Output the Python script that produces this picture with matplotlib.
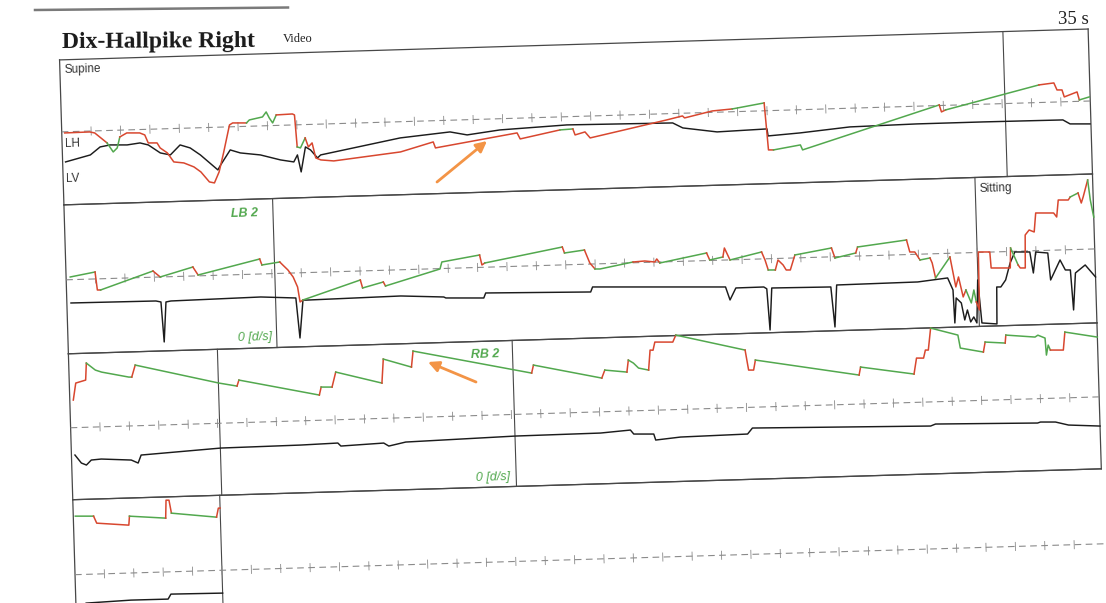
import matplotlib
matplotlib.use("Agg")
import matplotlib.pyplot as plt
from matplotlib.transforms import Affine2D

# ---------------------------------------------------------------- data
# Row 1 (0-35 s, supine): horizontal eye position (LH) and vertical (LV), degrees
r1_lh_t = [0.10, 0.95, 1.12, 1.53, 1.73, 1.87, 1.97, 2.21, 2.65, 2.82, 2.93, 3.23, 3.33,
           3.57, 3.78, 4.12, 4.46, 4.69, 4.97, 5.14, 5.31, 5.48, 5.71, 5.82, 6.29, 6.39,
           6.84, 6.97, 7.07, 7.18, 7.31, 7.86, 7.93, 7.99, 8.10, 8.27, 8.37, 8.50, 8.61,
           8.78, 9.22, 11.50, 12.62, 12.69, 15.48, 15.58, 16.94, 17.38, 17.45, 17.79,
           17.96, 18.98, 20.58, 21.12, 21.19, 22.14, 22.82, 23.91, 24.01, 24.18, 25.10,
           25.17, 29.86, 29.93, 30.07, 33.27, 33.78, 33.88, 34.05, 34.12, 34.56, 34.63, 34.97]
r1_lh_deg = [-0.23, -0.18, -0.41, -2.48, -4.32, -3.54, -1.36, -0.60, -0.68, -1.11, -2.73,
             -2.78, -3.80, -4.84, -6.68, -6.94, -7.80, -8.84, -10.89, -11.12, -8.95, -5.18,
             0.38, 0.76, 0.68, 1.26, 1.78, 2.76, 1.54, 0.52, 2.10, 2.20, 1.99, -4.42, -4.64,
             -2.67, -4.49, -3.71, -6.73, -7.16, -7.44, -6.04, -4.24, -5.45, -2.94, -4.16,
             -2.60, -2.48, -3.69, -3.15, -4.38, -3.16, -1.24, -0.54, -0.95, 0.28, 0.56, 1.57,
             -7.85, -7.88, -7.04, -8.05, 0.12, -1.29, -0.92, 3.52, 3.83, 2.41, 2.38, 0.97,
             1.89, 0.28, 0.82]
# r = fast phase (drawn red), g = slow phase (drawn green), one letter per segment
r1_lh_phase = ("rrr" "ggg" + "r" * 18 + "ggg" "ggg" "rrr" "gg" "rrr" + "r" * 8 + "g"
               + "r" * 9 + "g" "rr" "ggg" "rr" "g" + "r" * 6 + "g")

r1_lv_t = [0.10, 0.95, 1.29, 1.63, 2.21, 2.65, 2.93, 3.33, 3.67, 4.01, 4.35, 4.69, 5.27,
           5.37, 5.71, 6.05, 6.73, 7.41, 7.86, 7.99, 8.10, 8.27, 8.44, 8.67, 8.78, 11.50,
           13.20, 13.78, 14.90, 17.18, 20.78, 21.12, 22.28, 23.98, 24.01, 25.10, 26.80,
           29.08, 31.33, 34.05, 34.29, 34.97]
r1_lv_deg = [-6.03, -4.78, -3.24, -2.90, -3.00, -2.68, -3.13, -4.80, -5.26, -3.32, -3.98,
             -5.44, -8.54, -7.56, -4.62, -5.28, -5.80, -6.92, -7.40, -6.02, -9.44, -4.47,
             -5.10, -6.74, -6.16, -3.24, -2.34, -3.04, -2.24, -1.64, -1.88, -2.94, -3.94,
             -3.64, -5.05, -4.64, -3.74, -3.54, -3.54, -3.62, -4.46, -4.58]

# Row 2 (35-70 s)
r2_pos_t = [0.14, 0.99, 1.05, 1.16, 2.96, 3.20, 4.32, 4.49, 6.60, 6.67, 7.28, 7.38, 7.55,
            7.72, 7.86, 7.93, 8.03, 10.00, 10.07, 10.78, 10.85, 12.72, 12.79, 14.08, 14.15,
            14.25, 16.90, 16.97, 17.65, 17.82, 17.99, 18.16, 19.29, 19.69, 20.03, 20.10,
            20.20, 21.80, 21.90, 22.35, 22.41, 22.59, 23.67, 23.78, 23.88, 24.12, 24.22,
            24.39, 24.49, 24.63, 24.80, 26.05, 26.16, 26.87, 26.94, 28.61, 28.71, 28.88,
            29.05, 29.39, 29.46, 29.56, 30.07, 30.24, 30.34, 30.48, 30.58, 30.75, 30.85,
            30.92, 31.02, 31.04, 31.43, 31.46, 32.11, 32.14, 32.38, 32.45, 32.62, 32.65,
            32.79, 32.96, 33.03, 33.64, 33.74, 33.81, 34.15, 34.22, 34.49, 34.59, 34.66,
            34.83, 34.90, 35.00]
r2_pos_deg = [0.54, 1.39, -2.22, -2.24, 1.24, 0.00, 1.80, 0.17, 3.00, 1.79, 2.28, 1.66, 0.63,
              -0.80, -2.82, -5.83, -5.45, -1.80, -3.41, -2.34, -3.15, -0.08, 1.31, 2.48,
              0.47, 0.85, 3.58, 2.37, 2.85, 0.22, -1.01, -1.04, 0.16, 0.29, 0.03, 0.62,
              -0.20, 1.52, 0.10, 0.62, 2.41, -0.02, 1.39, -0.23, -2.25, -2.29, -0.31, -1.34,
              -2.36, -2.38, 0.59, 1.77, -0.25, 0.62, 1.81, 2.92, 0.50, 0.47, -1.16, -0.82,
              -1.83, -4.85, -0.74, -6.77, -4.79, -8.81, -7.43, -10.06, -7.48, -9.89, -11.51,
              0.09, 0.02, -3.19, -3.30, 0.69, -2.75, -3.36, -3.39, 3.20, 4.18, 3.75, 7.54,
              7.43, 6.61, 10.00, 9.94, 10.53, 11.28, 9.26, 10.45, 13.82, 9.81, 6.37]
r2_pos_phase = ("g" "rr" "g" "r" "g" "r" "g" "r" "g" "rrrrrr" "g" "r" "g" "r" "ggg" "rr" "g"
                "r" "g" "rr" "gg" "rrrr" "g" "r" "g" "rr" "g" "rr" "g" "rrrrr" "g" "r" "g"
                "r" "g" "rrr" "g" "rr" "g" "rrrr" "ggg" "rrrrrr" "g" + "r" * 11 + "g" "rrr" "gg")

r2_vel_t = [0.14, 3.03, 3.20, 3.27, 3.37, 3.54, 6.60, 7.79, 7.89, 8.03, 8.13, 11.36, 12.82,
            12.89, 14.18, 14.25, 17.82, 17.89, 21.90, 22.41, 22.55, 22.76, 23.71, 23.81,
            23.88, 23.98, 25.99, 26.09, 26.19, 28.95, 29.97, 30.14, 30.17, 30.24, 30.41,
            30.51, 30.61, 30.71, 30.82, 30.92, 30.99, 31.09, 31.60, 31.63, 31.77, 31.94,
            32.11, 32.28, 32.79, 32.89, 32.99, 33.40, 33.47, 33.81, 33.98, 34.15, 34.22,
            34.32, 34.66, 35.00]
r2_vel_deg = [-4.66, -4.77, -5.00, -13.01, -5.03, -4.86, -4.60, -5.01, -13.03, -5.45, -5.50,
              -5.24, -5.70, -5.91, -6.14, -5.15, -5.58, -4.59, -5.30, -5.39, -8.01, -5.65,
              -5.62, -6.00, -14.25, -5.87, -6.02, -14.04, -5.66, -5.54, -4.92, -7.35, -13.96,
              -8.97, -10.00, -13.42, -11.44, -13.85, -12.87, -14.09, -5.50, -14.12, -14.41,
              -7.02, -7.04, -5.67, -2.30, -0.13, -0.22, -4.44, -0.26, -0.53, -5.94, -2.00,
              -4.03, -4.06, -12.07, -4.69, -3.15, -5.61]

# Row 3 (70-105 s)
r3_pos_t = [0.12, 0.22, 0.56, 0.60, 0.90, 1.11, 2.03, 2.13, 2.26, 5.09, 5.70, 5.77, 8.49,
            8.56, 8.93, 9.07, 10.63, 10.70, 11.65, 11.72, 15.73, 15.80, 18.11, 18.22, 18.97,
            19.03, 19.20, 19.37, 19.71, 19.78, 19.88, 19.95, 20.56, 20.67, 23.01, 23.11,
            23.28, 23.35, 26.86, 26.92, 28.73, 28.83, 29.07, 29.14, 29.24, 29.34, 30.26,
            30.33, 31.11, 31.18, 31.86, 31.89, 32.88, 32.98, 33.22, 33.25, 33.32, 33.39,
            33.83, 33.90, 35.00]
r3_pos_deg = [5.52, 8.90, 9.44, 12.83, 11.38, 10.94, 9.78, 9.76, 12.14, 8.04, 7.33, 8.52,
              5.04, 6.63, 6.56, 9.54, 7.06, 11.85, 10.08, 13.27, 8.16, 9.75, 6.74, 8.32,
              7.79, 10.18, 9.55, 8.52, 8.06, 12.05, 12.00, 13.62, 13.51, 14.89, 11.48, 7.46,
              7.43, 9.42, 5.80, 7.39, 5.67, 8.85, 8.80, 10.40, 10.38, 14.76, 13.20, 10.59,
              9.65, 11.64, 11.32, 12.91, 12.34, 12.70, 12.08, 8.67, 10.66, 9.65, 9.57, 13.16,
              11.96]
r3_pos_phase = ("rrr" "gggg" "r" "gg" "r" "g" "r" "g" "r" "g" "r" "g" "r" "g" "r" "g" "r"
                "g" "r" "ggg" "rrrrr" "g" "rrr" "g" "r" "g" "rrrrr" "ggg" "r" "g" "r"
                "gggggg" "rr" "g")

r3_vel_t = [0.12, 0.33, 0.50, 0.67, 1.01, 2.03, 2.26, 2.37, 5.09, 7.81, 9.07, 9.17, 10.63,
            10.80, 11.38, 15.12, 18.01, 19.03, 19.14, 19.82, 19.88, 20.73, 23.01, 23.18,
            29.24, 29.41, 32.88, 32.98, 33.49, 33.93, 35.00]
r3_vel_deg = [-5.48, -7.12, -7.55, -6.58, -6.44, -6.82, -7.46, -5.88, -4.96, -4.84, -4.66,
              -5.28, -4.94, -5.57, -4.87, -4.33, -4.24, -3.82, -4.64, -4.76, -5.97, -5.52,
              -5.32, -4.15, -4.82, -4.45, -4.86, -4.68, -4.77, -5.45, -5.84]

# Row 4 (105-140 s)
r4_pos_t = [0.07, 0.69, 0.79, 1.88, 1.91, 3.14, 3.17, 3.27, 3.34, 4.87, 4.94, 5.00]
r4_pos_deg = [11.70, 11.59, 10.17, 9.58, 11.37, 10.76, 14.35, 14.33, 11.72, 10.65, 12.44, 12.44]
r4_pos_phase = "grrrgrrrgrr"

r4_vel_t = [0.35, 1.88, 3.14, 3.24, 5.00]
r4_vel_deg = [-5.75, -5.42, -5.44, -4.46, -4.57]

# event markers (s within each row)
row_events = [[32.1], [7.1, 31.0], [5.07, 15.1], [5.0]]

# ---------------------------------------------------------------- layout
W, H, DPI = 1106, 603, 100
SECONDS_PER_ROW = 35
ROW_TOP = [45, 190, 339, 485]
ROW_HEIGHT = [145, 149, 146, 147]
ROW_ZERO = [117, 265, 413, 560]
PX_PER_DEG = 5
LEFT, RIGHT = 67, 1096
SCAN_TILT = 1.72  # degrees

GREEN = "#52a84e"
RED = "#d8472f"
BLACK = "#1c1c1c"
FRAME = "#474747"
GRID = "#8a8a8a"
ORANGE = "#f39446"

fig = plt.figure(figsize=(W / DPI, H / DPI), dpi=DPI)
fig.patch.set_facecolor("white")
tilt = Affine2D().rotate_deg_around(560, H - 300, SCAN_TILT)

page = fig.add_axes([0, 0, 1, 1])
page.set_xlim(0, W)
page.set_ylim(H, 0)
page.axis("off")
P = page.transData + tilt


def make_row(i):
    top, h = ROW_TOP[i], ROW_HEIGHT[i]
    ax = fig.add_axes([LEFT / W, 1 - (top + h) / H, (RIGHT - LEFT) / W, h / H])
    ax.set_xlim(0, SECONDS_PER_ROW)
    ax.set_ylim((ROW_ZERO[i] - top - h) / PX_PER_DEG, (ROW_ZERO[i] - top) / PX_PER_DEG)
    ax.axis("off")
    ax.patch.set_visible(False)
    return ax


def frame(ax, sides="lrtb"):
    A = ax.transAxes + tilt
    edges = {"l": ([0, 0], [0, 1]), "r": ([1, 1], [0, 1]),
             "t": ([0, 1], [1, 1]), "b": ([0, 1], [0, 0])}
    for s in sides:
        xs, ys = edges[s]
        ax.plot(xs, ys, color=FRAME, lw=0.9, transform=A, clip_on=False)


def baseline(ax):
    D = ax.transData + tilt
    ax.plot([0, SECONDS_PER_ROW], [0, 0], color=GRID, lw=0.8, ls=(0, (6, 4)),
            transform=D, clip_on=False)
    secs = list(range(1, SECONDS_PER_ROW))
    ax.vlines(secs, -0.9, 0.9, color=GRID, lw=0.6, transform=D, clip_on=False)


def events(ax, times):
    D = ax.transData + tilt
    y0, y1 = ax.get_ylim()
    for t in times:
        ax.plot([t, t], [y0, y1], color=FRAME, lw=0.8, transform=D, clip_on=False)


def phased_trace(ax, t, v, phase):
    D = ax.transData + tilt
    start = 0
    n = len(t) - 1
    for k in range(1, n + 1):
        if k == n or phase[k] != phase[start]:
            c = RED if phase[start] == "r" else GREEN
            ax.plot(t[start:k + 1], v[start:k + 1], color=c, lw=1.1, transform=D,
                    clip_on=False, solid_joinstyle="round")
            start = k


def black_trace(ax, t, v):
    ax.plot(t, v, color=BLACK, lw=1.05, transform=ax.transData + tilt, clip_on=False)


def label(ax, t, v, s, **kw):
    ax.text(t, v, s, transform=ax.transData + tilt, rotation=SCAN_TILT,
            rotation_mode="anchor", va="baseline", **kw)


rows = [make_row(i) for i in range(4)]

# header (page coordinates, px from the top-left corner)
page.plot([35, 288], [10, 7.5], color="#7a7a7a", lw=1.8)
page.text(62, 48, "Dix-Hallpike Right", family="Liberation Serif", weight="bold",
          fontsize=17, color="#1a1a1a", va="baseline", rotation=0.3,
          rotation_mode="anchor")
page.text(283, 42, "Video", family="Liberation Serif", fontsize=9, color="#222222",
          va="baseline")
page.text(1089, 24, "35 s", family="Liberation Serif", fontsize=13.5, color="#222222",
          va="baseline", ha="right")

sans = dict(family="Liberation Sans", fontsize=8.5, color="#333333")
green_tag = dict(family="Liberation Sans", fontsize=9, color=GREEN, style="italic")

# row 1
ax = rows[0]
frame(ax)
events(ax, row_events[0])
baseline(ax)
black_trace(ax, r1_lv_t, r1_lv_deg)
phased_trace(ax, r1_lh_t, r1_lh_deg, r1_lh_phase)
label(ax, 0.15, 11.8, "Supine", **sans)
label(ax, 0.08, -3.0, "LH", **sans)
label(ax, 0.08, -10.0, "LV", **sans)

# row 2
ax = rows[1]
frame(ax)
events(ax, row_events[1])
baseline(ax)
black_trace(ax, r2_vel_t, r2_vel_deg)
phased_trace(ax, r2_pos_t, r2_pos_deg, r2_pos_phase)
label(ax, 6.6, 11.6, "LB 2", ha="right", weight="bold", **green_tag)
label(ax, 6.93, -13.3, "0 [d/s]", ha="right", **green_tag)
label(ax, 31.15, 12.1, "Sitting", **sans)

# row 3
ax = rows[2]
frame(ax)
events(ax, row_events[2])
baseline(ax)
black_trace(ax, r3_vel_t, r3_vel_deg)
phased_trace(ax, r3_pos_t, r3_pos_deg, r3_pos_phase)
label(ax, 14.67, 11.6, "RB 2", ha="right", weight="bold", **green_tag)
label(ax, 14.88, -13.1, "0 [d/s]", ha="right", **green_tag)

# row 4
ax = rows[3]
frame(ax, "lt")
events(ax, row_events[3])
baseline(ax)
black_trace(ax, r4_vel_t, r4_vel_deg)
phased_trace(ax, r4_pos_t, r4_pos_deg, r4_pos_phase)

# highlighted beats
arrow = dict(arrowstyle="-|>", color=ORANGE, lw=2.0, mutation_scale=16,
             shrinkA=0, shrinkB=0)
page.annotate("", xy=(487, 141), xytext=(437, 182), arrowprops=arrow)
page.annotate("", xy=(428, 362), xytext=(476, 382), arrowprops=arrow)

fig.savefig("out.png", dpi=DPI, facecolor="white")
